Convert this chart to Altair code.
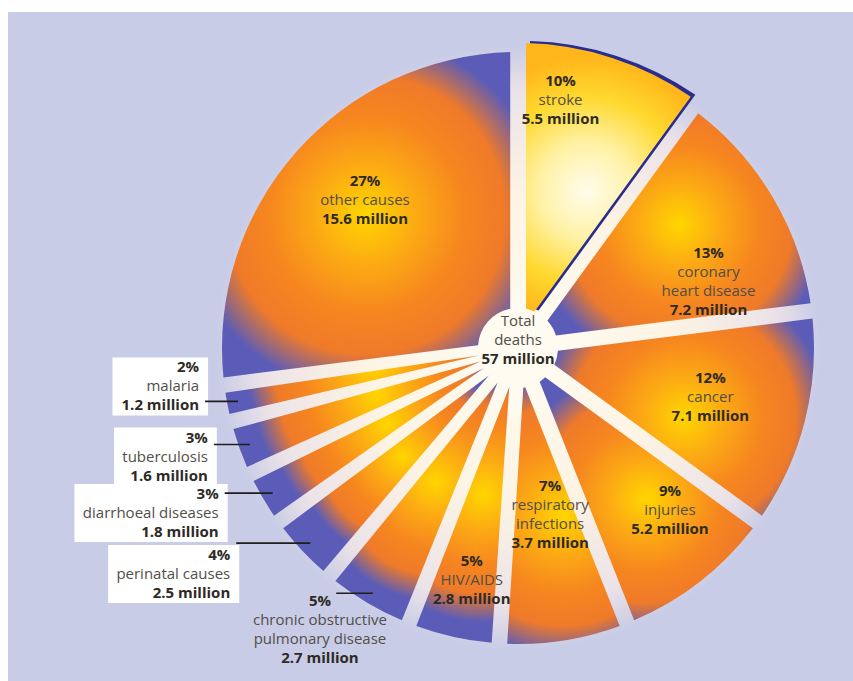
import math
import altair as alt
import pandas as pd

# ---------------- data ----------------
causes = ["stroke", "coronary heart disease", "cancer", "injuries",
          "respiratory infections", "HIV/AIDS",
          "chronic obstructive pulmonary disease", "perinatal causes",
          "diarrhoeal diseases", "tuberculosis", "malaria", "other causes"]
percent = [10, 13, 12, 9, 7, 5, 5, 4, 3, 3, 2, 27]
deaths_million = [5.5, 7.2, 7.1, 5.2, 3.7, 2.8, 2.7, 2.5, 1.8, 1.6, 1.2, 15.6]
label_lines = [["stroke"], ["coronary", "heart disease"], ["cancer"], ["injuries"],
               ["respiratory", "infections"], ["HIV/AIDS"],
               ["chronic obstructive", "pulmonary disease"], ["perinatal causes"],
               ["diarrhoeal diseases"], ["tuberculosis"], ["malaria"], ["other causes"]]
centre_lines = ["Total", "deaths"]

# ---------------- layout / style ----------------
PAD_L, PAD_T = 8, 12
W, H = 853 - PAD_L, 681 - PAD_T
CX, CY = 518 - PAD_L, 348 - PAD_T
R_PIE = 296
R_INNER = 40
R_STROKE = 305
PAD_ANGLE = 0.052
R_INSIDE = 212
R_LEADER = 285
LINE_H = 19
FONT = "Open Sans"
FS = 15
BOLD_C = "#2e2a24"
REG_C = "#524e48"
BIG_SLICE = 7  # percent from which a slice gets the wide gradient

# label placement: kind, dx, dy (pixel nudges relative to the computed anchor)
PLACEMENT = {
    "stroke": ("inside", -23, -46),
    "coronary heart disease": ("inside", 8, 41),
    "cancer": ("inside", -13, -4),
    "injuries": ("inside", 22, -6),
    "respiratory infections": ("inside", -1, -43),
    "HIV/AIDS": ("inside", 0, 25),
    "chronic obstructive pulmonary disease": ("below", -53, 8),
    "perinatal causes": ("boxed", -80, 12),
    "diarrhoeal diseases": ("boxed", -54, 1),
    "tuberculosis": ("boxed", -42, -7),
    "malaria": ("boxed", -39, -34),
    "other causes": ("inside", 6, -8),
}


def radial(stops, cx=0.5, cy=0.5, r=0.5):
    return {"gradient": "radial", "x1": cx, "y1": cy, "r1": 0,
            "x2": cx, "y2": cy, "r2": r,
            "stops": [{"offset": o, "color": c} for o, c in stops]}


ORANGE_STOPS = [(0, "#ffd600"), (0.28, "#fcaa14"), (0.55, "#f6861f"),
                (0.78, "#ef7a2a"), (1, "#5a5cb8")]
ORANGE_WIDE = radial(ORANGE_STOPS, r=0.55)
ORANGE_NARROW = radial(ORANGE_STOPS, cx=0.58, cy=0.42, r=0.5)
YELLOW_GRAD = radial([(0, "#fffcec"), (0.35, "#fff2a6"), (0.7, "#ffd82e"),
                      (1, "#ffb61a")], cx=0.42, cy=0.55)
GLOW_GRAD = radial([(0, "#fffdf4"), (0.5, "#fdf4e4"), (0.85, "#ece3e8"),
                    (1, "#c8cce6")])

CHAR_W = {"a": .556, "b": .613, "c": .48, "d": .613, "e": .561, "f": .336, "g": .546,
          "h": .614, "i": .258, "j": .258, "k": .529, "l": .258, "m": .932, "n": .614,
          "o": .603, "p": .613, "q": .613, "r": .409, "s": .479, "t": .353, "u": .614,
          "v": .501, "w": .772, "x": .523, "y": .5, "z": .468, " ": .26, ".": .266,
          "%": .823, "/": .371}


def text_width(s, bold):
    w = sum(CHAR_W.get(ch, 0.572) for ch in s) * FS
    return w * (1.08 if bold else 1.0)


# ---------------- derived tables ----------------
n = len(causes)
slice_df = pd.DataFrame({"cause": causes, "pct": percent,
                         "deaths": deaths_million, "order": list(range(n))})

total_pct = sum(percent)
mids = []
acc = 0
for p in percent:
    mids.append(2 * math.pi * (acc + p / 2) / total_pct)
    acc += p

text_rows, box_rows, rule_rows = [], [], []
for i, cause in enumerate(causes):
    kind, dx, dy = PLACEMENT[cause]
    lines = [f"{percent[i]}%"] + label_lines[i] + [f"{deaths_million[i]} million"]
    bold = [True] + [False] * len(label_lines[i]) + [True]
    m = mids[i]
    if kind == "inside":
        bx = CX + R_INSIDE * math.sin(m) + dx
        by = CY - R_INSIDE * math.cos(m) + dy
        for k, (t, b) in enumerate(zip(lines, bold)):
            text_rows.append({"text": t, "x": bx, "y": by + (k - (len(lines) - 1) / 2) * LINE_H,
                              "bold": b, "align": "center"})
    else:
        ax = CX + R_LEADER * math.sin(m)
        ay = CY - R_LEADER * math.cos(m)
        tx, ty = ax + dx, ay + dy
        al = "right" if kind == "boxed" else "center"
        for k, (t, b) in enumerate(zip(lines, bold)):
            text_rows.append({"text": t, "x": tx, "y": ty + k * LINE_H, "bold": b, "align": al})
        if kind == "boxed":
            maxw = max(text_width(t, b) for t, b in zip(lines, bold))
            box_rows.append({"x": tx - maxw - 8, "x2": tx + 9,
                             "y": ty - 10, "y2": ty + (len(lines) - 1) * LINE_H + 10})
            rule_rows.append({"x": tx + 6, "x2": ax, "y": ay})
        else:
            rule_rows.append({"x": tx + text_width(lines[0], True) / 2 + 5, "x2": ax, "y": ay})

centre_text = centre_lines + [f"{round(sum(deaths_million))} million"]
for k, t in enumerate(centre_text):
    text_rows.append({"text": t, "x": CX, "y": CY - 8 + (k - 1) * LINE_H,
                      "bold": k == len(centre_text) - 1, "align": "center"})

text_df = pd.DataFrame(text_rows)
box_df = pd.DataFrame(box_rows)
rule_df = pd.DataFrame(rule_rows)

# ---------------- chart ----------------
theta_scale = alt.Scale(domain=[0, 1], range=[0, 2 * math.pi])
centre = dict(x=alt.value(CX), y=alt.value(CY))

pie_base = (alt.Chart(slice_df)
            .transform_window(cum="sum(pct)", sort=[{"field": "order"}], frame=[None, 0])
            .transform_joinaggregate(total="sum(pct)")
            .transform_calculate(t0="(datum.cum - datum.pct) / datum.total",
                                 t1="datum.cum / datum.total"))
theta_enc = dict(theta=alt.Theta("t0:Q", scale=theta_scale, stack=None),
                 theta2=alt.Theta2("t1:Q"))

glow = alt.Chart(pd.DataFrame({"g": [0]})).mark_arc(
    theta=0, theta2=2 * math.pi, radius=R_PIE + 6, fill=GLOW_GRAD
).encode(**centre)

big_slices = pie_base.transform_filter(
    (alt.datum.cause != "stroke") & (alt.datum.pct >= BIG_SLICE)
).mark_arc(radius=R_PIE, radius2=R_INNER, padAngle=PAD_ANGLE, fill=ORANGE_WIDE
           ).encode(**theta_enc, **centre)

small_slices = pie_base.transform_filter(
    (alt.datum.cause != "stroke") & (alt.datum.pct < BIG_SLICE)
).mark_arc(radius=R_PIE, radius2=R_INNER, padAngle=PAD_ANGLE, fill=ORANGE_NARROW
           ).encode(**theta_enc, **centre)

stroke_shadow = pie_base.transform_filter(alt.datum.cause == "stroke").mark_arc(
    radius=R_STROKE + 1, radius2=R_INNER, padAngle=PAD_ANGLE, fill="#2a2c8e"
).encode(**theta_enc, x=alt.value(CX + 4), y=alt.value(CY - 1))

stroke_slice = pie_base.transform_filter(alt.datum.cause == "stroke").mark_arc(
    radius=R_STROKE, radius2=R_INNER, padAngle=PAD_ANGLE, fill=YELLOW_GRAD
).encode(**theta_enc, **centre)

boxes = alt.Chart(box_df).mark_rect(fill="white").encode(
    x=alt.X("x:Q", scale=None, axis=None), x2="x2:Q",
    y=alt.Y("y:Q", scale=None, axis=None), y2="y2:Q")

leaders = alt.Chart(rule_df).mark_rule(color="#1e1e1e", strokeWidth=1.6).encode(
    x=alt.X("x:Q", scale=None, axis=None), x2="x2:Q",
    y=alt.Y("y:Q", scale=None, axis=None))

text_layers = []
for b in (True, False):
    for al in ("center", "right"):
        sub = text_df[(text_df["bold"] == b) & (text_df["align"] == al)]
        if len(sub) == 0:
            continue
        text_layers.append(
            alt.Chart(sub).mark_text(
                align=al, baseline="middle", font=FONT, fontSize=FS,
                fontWeight="bold" if b else "normal", color=BOLD_C if b else REG_C
            ).encode(x=alt.X("x:Q", scale=None, axis=None),
                     y=alt.Y("y:Q", scale=None, axis=None),
                     text="text:N")
        )

chart = alt.layer(glow, big_slices, small_slices, stroke_shadow, stroke_slice,
                  boxes, leaders, *text_layers).properties(
    width=W, height=H,
    padding={"left": PAD_L, "top": PAD_T, "right": 0, "bottom": 0},
    autosize=alt.AutoSizeParams(type="none"),
    background="white",
).configure_view(fill="#c8cce6", strokeWidth=0)

chart.save("out.html", embed_options={"renderer": "svg", "actions": False})
